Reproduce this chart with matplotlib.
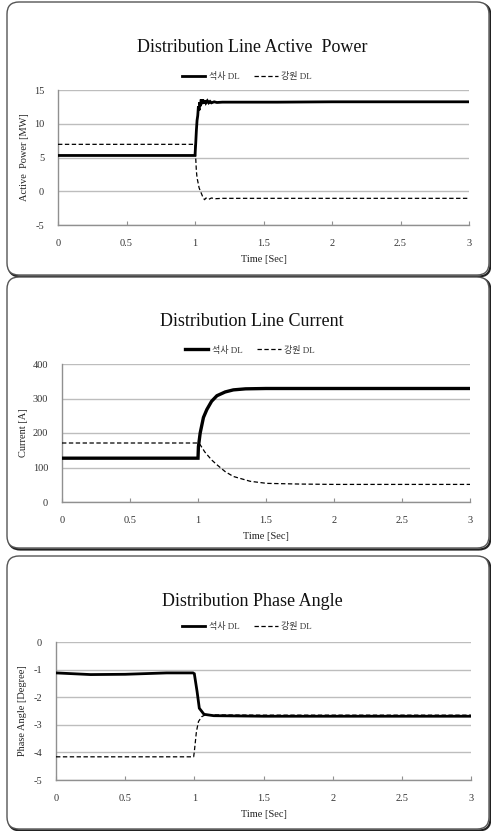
import matplotlib
matplotlib.use('Agg')
from matplotlib import pyplot as plt
from matplotlib.patches import FancyBboxPatch
from matplotlib.transforms import IdentityTransform

plt.rcParams['axes.unicode_minus'] = False

# --- data ---
legend_names = ['석사 DL', '강원 DL']

power_sa_t = [0, 1.0, 1.005, 1.01, 1.015, 1.02, 1.025, 1.03, 1.035, 1.04, 1.045, 1.05, 1.055, 1.06, 1.065,
              1.07, 1.075, 1.08, 1.09, 1.1, 1.11, 1.12, 1.14, 1.16, 1.2, 1.3, 1.6, 2.0, 2.5, 3.0]
power_sa = [5.3, 5.3, 7.0, 9.0, 10.5, 11.2, 12.6, 12.0, 13.2, 12.6, 13.6, 12.9, 13.6, 13.0, 13.5,
            13.0, 13.4, 13.1, 13.4, 13.1, 13.3, 13.1, 13.25, 13.15, 13.2, 13.2, 13.2, 13.25, 13.25, 13.25]
power_gw_t = [0, 1.0, 1.005, 1.01, 1.015, 1.02, 1.03, 1.04, 1.05, 1.06, 1.07, 1.08, 1.1, 1.12, 1.15, 1.2,
              1.5, 2.0, 2.5, 3.0]
power_gw = [6.95, 6.95, 5.0, 3.0, 2.0, 1.5, 0.5, 0.0, -0.5, -1.0, -1.25, -1.0, -1.2, -1.0, -1.1, -1.05,
            -1.05, -1.05, -1.05, -1.05]

current_sa_t = [0, 1.0, 1.003, 1.016, 1.04, 1.065, 1.1, 1.139, 1.2, 1.26, 1.35, 1.5, 2.0, 3.0]
current_sa = [127, 127, 160, 200, 245, 268, 292, 308, 319, 325, 328, 329, 329, 329]
current_gw_t = [0, 1.0, 1.016, 1.05, 1.1, 1.139, 1.2, 1.26, 1.384, 1.506, 1.75, 2.0, 3.0]
current_gw = [171, 171, 166, 145, 122, 108, 88, 74, 60, 54, 52, 51, 51]

angle_sa_t = [0, 0.25, 0.5, 0.8, 0.99, 1.0, 1.02, 1.036, 1.07, 1.14, 1.5, 2.0, 3.0]
angle_sa = [-1.12, -1.18, -1.17, -1.12, -1.12, -1.15, -1.8, -2.4, -2.62, -2.67, -2.69, -2.69, -2.69]
angle_gw_t = [0, 0.995, 1.0, 1.015, 1.03, 1.055, 1.08, 1.5, 3.0]
angle_gw = [-4.16, -4.16, -3.97, -3.25, -2.88, -2.7, -2.64, -2.65, -2.65]

x_ticks = [0, 0.5, 1, 1.5, 2, 2.5, 3]
x_tick_labels = ['0', '0.5', '1', '1.5', '2', '2.5', '3']

W, H = 491, 831
SERIF = ['Liberation Serif', 'DejaVu Serif']
MIXED = ['Liberation Serif', 'Noto Sans CJK KR']

fig = plt.figure(figsize=(W / 100, H / 100), dpi=100)
fig.patch.set_facecolor('white')


def add_box(top, bottom, left=7, right=489):
    # pixel coordinates measured from top-left, converted to display coords
    shadow = FancyBboxPatch((left + 1.5, H - bottom - 1.5), right - left, bottom - top,
                            boxstyle='round,pad=0,rounding_size=12', transform=IdentityTransform(),
                            facecolor='none', edgecolor='#222222', linewidth=1.6, zorder=-2)
    box = FancyBboxPatch((left, H - bottom), right - left, bottom - top,
                         boxstyle='round,pad=0,rounding_size=12', transform=IdentityTransform(),
                         facecolor='white', edgecolor='#555555', linewidth=1.0, zorder=-1)
    fig.add_artist(shadow)
    fig.add_artist(box)


def make_panel(rect, title, title_y, legend_xy, ylabel, ylabel_x, ylim, yticks,
               t1, y1, t2, y2, lw1=2.0):
    left, top, right, bottom = rect
    ax = fig.add_axes((left / W, 1 - bottom / H, (right - left) / W, (bottom - top) / H))
    ax.plot(t1, y1, color='black', linewidth=lw1, solid_joinstyle='miter', label=legend_names[0], zorder=3)
    ax.plot(t2, y2, color='black', linewidth=0.9, linestyle=(0, (3.5, 2)), label=legend_names[1], zorder=3)
    ax.set_xlim(0, 3)
    ax.set_ylim(*ylim)
    ax.set_yticks(yticks)
    ax.set_xticks(x_ticks)
    ax.set_xticklabels(x_tick_labels)
    ax.yaxis.grid(True, color='#bdbdbd', linewidth=1.0)
    ax.set_axisbelow(True)
    for s in ('top', 'right'):
        ax.spines[s].set_visible(False)
    for s in ('left', 'bottom'):
        ax.spines[s].set_color('#909090')
        ax.spines[s].set_linewidth(1.0)
    ax.tick_params(axis='x', direction='in', length=3, color='#909090', labelsize=7.5, pad=10)
    ax.tick_params(axis='y', length=0, labelsize=7.5, pad=10)
    for lab in ax.get_xticklabels() + ax.get_yticklabels():
        lab.set_family(SERIF)
        lab.set_color('#333333')
    ax.set_xlabel('Time [Sec]', family=SERIF, fontsize=7.5, color='#222222', labelpad=5)
    ax.set_ylabel(ylabel, family=SERIF, fontsize=7.5, color='#222222')
    ax.yaxis.set_label_coords((ylabel_x - left) / (right - left), 0.5)
    fig.text(252 / W, 1 - title_y / H, title, family=SERIF, fontsize=13, ha='center', va='center',
             color='#111111')
    leg = ax.legend(loc='center', bbox_to_anchor=(legend_xy[0] / W, 1 - legend_xy[1] / H),
                    bbox_transform=fig.transFigure, ncol=2, frameon=False, handlelength=2.6,
                    columnspacing=1.6, handletextpad=0.4, prop={'family': MIXED, 'size': 6.5})
    for txt in leg.get_texts():
        txt.set_color('#333333')
    return ax


add_box(2, 275)
add_box(277, 548)
add_box(556, 829)

make_panel((58, 90, 469, 225), 'Distribution Line Active  Power', 47, (247, 77),
           'Active  Power [MW]', 29, (-5, 15), [-5, 0, 5, 10, 15],
           power_sa_t, power_sa, power_gw_t, power_gw, lw1=2.0)
make_panel((62, 364, 470, 502), 'Distribution Line Current', 322, (250, 350),
           'Current [A]', 28, (0, 400), [0, 100, 200, 300, 400],
           current_sa_t, current_sa, current_gw_t, current_gw, lw1=2.4)
make_panel((56, 642, 471, 780), 'Distribution Phase Angle', 601, (247, 627),
           'Phase Angle [Degree]', 27, (-5, 0), [-5, -4, -3, -2, -1, 0],
           angle_sa_t, angle_sa, angle_gw_t, angle_gw, lw1=2.0)

fig.savefig('out.png', dpi=100)
